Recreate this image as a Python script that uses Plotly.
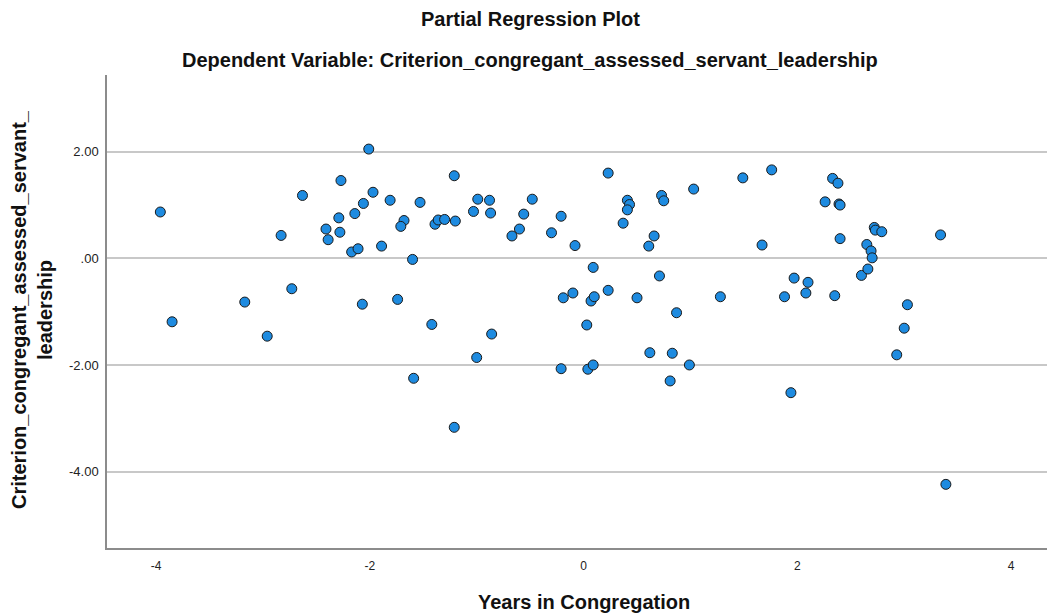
import plotly.graph_objects as go

# Partial regression residuals
years_in_congregation = [
    -3.96, -3.85, -3.17, -2.96, -2.83, -2.73, -2.63, -2.41, -2.39, -2.27,
    -2.29, -2.28, -2.17, -2.14, -2.11, -2.06, -2.01, -1.97, -2.07, -1.89,
    -1.81, -1.74, -1.68, -1.71, -1.60, -1.59, -1.53, -1.42, -1.39, -1.36,
    -1.30, -1.20, -1.21, -1.21, -1.03, -0.99, -1.00, -0.88, -0.87, -0.86,
    -0.67, -0.60, -0.56, -0.48, -0.30, -0.21, -0.19, -0.10, -0.08, -0.21,
    0.03, 0.04, 0.09, 0.07, 0.10, 0.09, 0.23, 0.23, 0.41, 0.43,
    0.41, 0.37, 0.50, 0.61, 0.66, 0.62, 0.71, 0.73, 0.75, 0.81,
    0.83, 0.87, 0.99, 1.03, 1.28, 1.49, 1.67, 1.76, 1.88, 1.94,
    1.97, 2.08, 2.10, 2.26, 2.33, 2.38, 2.39, 2.40, 2.40, 2.35,
    2.60, 2.66, 2.65, 2.69, 2.70, 2.72, 2.73, 2.79, 2.93, 3.00,
    3.03, 3.34, 3.39,
]
criterion_servant_leadership = [
    0.87, -1.19, -0.82, -1.46, 0.43, -0.57, 1.18, 0.55, 0.35, 1.46,
    0.76, 0.49, 0.12, 0.84, 0.18, 1.03, 2.05, 1.24, -0.86, 0.23,
    1.09, -0.77, 0.71, 0.60, -0.02, -2.25, 1.05, -1.24, 0.64, 0.72,
    0.73, 0.70, 1.55, -3.17, 0.88, 1.11, -1.86, 1.09, 0.85, -1.42,
    0.42, 0.55, 0.83, 1.11, 0.48, 0.79, -0.74, -0.65, 0.24, -2.07,
    -1.25, -2.08, -2.00, -0.80, -0.72, -0.17, 1.60, -0.60, 1.09, 1.01,
    0.91, 0.66, -0.74, 0.23, 0.42, -1.77, -0.33, 1.18, 1.08, -2.30,
    -1.78, -1.02, -2.00, 1.30, -0.72, 1.51, 0.25, 1.66, -0.72, -2.52,
    -0.37, -0.65, -0.45, 1.06, 1.50, 1.41, 1.02, 1.00, 0.37, -0.70,
    -0.32, -0.20, 0.26, 0.14, 0.01, 0.58, 0.53, 0.50, -1.81, -1.31,
    -0.87, 0.44, -4.24,
]

y_tickvals = [2, 0, -2, -4]
y_ticktext = ["2.00", ".00", "-2.00", "-4.00"]
x_tickvals = [-4, -2, 0, 2, 4]
x_ticktext = ["-4", "-2", "0", "2", "4"]

FONT = "Liberation Sans, Arial, sans-serif"

fig = go.Figure()
fig.add_trace(go.Scatter(
    x=years_in_congregation,
    y=criterion_servant_leadership,
    mode="markers",
    marker=dict(size=10, color="#1E8BE0", line=dict(color="#1a1a1a", width=1)),
    showlegend=False,
    hoverinfo="x+y",
))

fig.update_layout(
    width=1049, height=615,
    margin=dict(l=107, r=2, t=75, b=67),
    paper_bgcolor="white", plot_bgcolor="white",
    font=dict(family=FONT, color="#222222"),
    xaxis=dict(
        range=[-4.459, 4.336],
        tickvals=x_tickvals, ticktext=x_ticktext,
        showgrid=False, zeroline=False,
        showline=True, linecolor="#8c8c8c", linewidth=1.5,
        ticks="", tickfont=dict(size=12, color="#222222"),
        ticklabelstandoff=6,
    ),
    yaxis=dict(
        range=[-5.434, 3.44],
        tickvals=y_tickvals, ticktext=y_ticktext,
        showgrid=True, gridcolor="#c8c8c8", gridwidth=1.5,
        zeroline=False,
        showline=True, linecolor="#8c8c8c", linewidth=1.5,
        ticks="", tickfont=dict(size=13, color="#222222"),
        ticklabelstandoff=4,
    ),
    annotations=[
        dict(text="<b>Partial Regression Plot</b>", xref="paper", yref="paper",
             x=(530 - 107) / 940, y=1 + (75 - 19) / 473, xanchor="center", yanchor="middle",
             showarrow=False, font=dict(size=20, family=FONT, color="#111111")),
        dict(text="<b>Dependent Variable: Criterion_congregant_assessed_servant_leadership</b>",
             xref="paper", yref="paper",
             x=(530 - 107) / 940, y=1 + (75 - 60) / 473, xanchor="center", yanchor="middle",
             showarrow=False, font=dict(size=20, family=FONT, color="#111111")),
        dict(text="<b>Years in Congregation</b>", xref="paper", yref="paper",
             x=(584 - 107) / 940, y=-(602 - 548) / 473, xanchor="center", yanchor="middle",
             showarrow=False, font=dict(size=20, family=FONT, color="#111111")),
        dict(text="<b>Criterion_congregant_assessed_servant_<br>leadership</b>",
             xref="paper", yref="paper", textangle=-90,
             x=-(107 - 32) / 940, y=(548 - 310) / 473, xanchor="center", yanchor="middle",
             showarrow=False, font=dict(size=20, family=FONT, color="#111111")),
    ],
)

fig.write_html("out.html")
